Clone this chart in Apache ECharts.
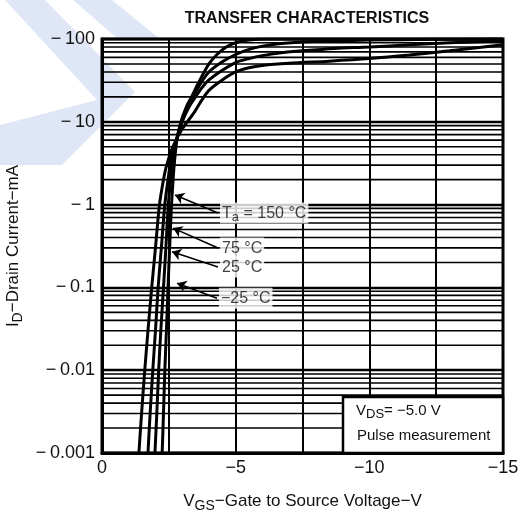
<!DOCTYPE html>
<html><head><meta charset="utf-8">
<script src="https://cdn.jsdelivr.net/npm/echarts@6/dist/echarts.min.js"></script>
<style>html,body{margin:0;padding:0;background:#fff}#c{width:530px;height:515px}</style>
</head><body><div id="c"></div>
<script>
// ---- data (VGS in volts, ID magnitude in mA; both are negative quantities) ----
const xTickValues = [0, -5, -10, -15];
const yDecades = [0.001, 0.01, 0.1, 1, 10, 100];
const minorMultipliers = [2, 3, 4, 5, 6, 7, 8, 9];

const ta150_vgs = [-1.38, -1.48, -1.6, -1.72, -1.86, -2.0, -2.15, -2.3, -2.42, -2.65, -2.98, -3.45, -3.72, -4.0, -4.5, -5.0, -5.5, -6.0, -7.0, -8.5, -10, -11.5, -13, -15];
const ta150_id  = [0.001, 0.003, 0.01, 0.03, 0.1, 0.3, 1, 2, 3, 5, 8, 13, 18, 24, 32, 40, 45, 48, 51, 54, 58, 64, 72, 85];

const ta75_vgs = [-1.72, -1.8, -1.9, -2.0, -2.1, -2.22, -2.35, -2.47, -2.55, -2.7, -3.0, -3.25, -3.5, -3.75, -4.0, -4.5, -5.0, -5.5, -6.0, -6.7, -7.5, -8.7, -10, -11.5, -13, -15];
const ta75_id  = [0.001, 0.003, 0.01, 0.03, 0.1, 0.3, 1, 2, 3, 5, 10, 15, 20, 26, 32, 42, 52, 58, 63, 68, 72, 77, 80, 85, 90, 95];

const ta25_vgs = [-1.98, -2.05, -2.12, -2.2, -2.3, -2.39, -2.48, -2.57, -2.63, -2.73, -2.98, -3.2, -3.4, -3.72, -4.0, -4.5, -5.0, -5.5, -6.0, -6.7, -7.5, -8.7, -10, -12.5, -15];
const ta25_id  = [0.001, 0.003, 0.01, 0.03, 0.1, 0.3, 1, 2, 3, 5, 10, 15, 20, 30, 40, 53, 65, 75, 82, 88, 92, 95, 97, 99, 100];

const tam25_vgs = [-2.25, -2.3, -2.35, -2.41, -2.47, -2.53, -2.6, -2.66, -2.7, -2.8, -2.95, -3.15, -3.35, -3.62, -4.0, -4.3, -4.65, -5.0, -5.5, -6.2, -10, -15];
const tam25_id  = [0.001, 0.003, 0.01, 0.03, 0.1, 0.3, 1, 2, 3, 6, 10, 15, 20, 30, 50, 65, 80, 90, 97, 100, 100, 100];

const annotText  = ['{n|T}{s|a}{n| = 150 °C}', '{n|75 °C}', '{n|25 °C}', '{n|−25 °C}'];
const annotFromV = [-4.34, -4.34, -4.34, -4.30];
const annotFromI = [0.79, 0.30, 0.176, 0.074];
const annotToV   = [-2.73, -2.66, -2.62, -2.81];
const annotToI   = [1.31, 0.52, 0.27, 0.112];

// ---- helpers ----
const zip = (xs, ys) => xs.map((x, i) => [x, ys[i]]);
const minorValues = [];
yDecades.slice(0, -1).forEach(d => minorMultipliers.forEach(m => minorValues.push(+(d * m).toPrecision(2))));
// horizontal minor grid lines spanning the x range, broken between lines
const minorGridData = [];
minorValues.forEach(v => { minorGridData.push([-15, v], [0, v], ['-', '-']); });

const FONT = '"Liberation Sans", Arial, Helvetica, sans-serif';
const chart = echarts.init(document.getElementById('c'), null, {renderer: 'canvas'});

const curve = (name, data) => ({
  name, type: 'line', data, showSymbol: false, smooth: 0.3,
  lineStyle: {color: '#000', width: 3}, itemStyle: {color: '#000'}, z: 5, clip: true
});
const richName = {
  n: {fontSize: 17, fontFamily: FONT, color: '#111', lineHeight: 24, verticalAlign: 'middle'},
  s: {fontSize: 14, fontFamily: FONT, color: '#111', lineHeight: 14, verticalAlign: 'bottom', padding: [6, 0, 0, 0]}
};

chart.setOption({
  animation: false,
  backgroundColor: '#fff',
  textStyle: {fontFamily: FONT, color: '#111'},
  title: {
    text: 'TRANSFER CHARACTERISTICS', left: 302, top: 6, textAlign: 'center',
    textStyle: {fontFamily: FONT, fontSize: 16, fontWeight: 'bold', color: '#111'}
  },
  grid: {left: 102, right: 27, top: 39, bottom: 62, show: true, borderColor: '#000', borderWidth: 3,
         backgroundColor: 'transparent', containLabel: false, outerBoundsMode: 'none'},
  xAxis: {
    type: 'value', min: -15, max: 0, interval: 2.5, inverse: true,
    axisLine: {show: true, lineStyle: {color: '#000', width: 3}},
    axisTick: {show: false},
    splitLine: {show: true, lineStyle: {color: '#000', width: 2}},
    axisLabel: {
      color: '#111', fontSize: 18, fontFamily: FONT, margin: 6,
      formatter: v => xTickValues.includes(v) ? (v === 0 ? '0' : '−' + Math.abs(v)) : ''
    },
    name: '{n|V}{s|GS}{n|−Gate to Source Voltage−V}', nameLocation: 'middle', nameGap: 36,
    nameTextStyle: {rich: richName}
  },
  yAxis: {
    type: 'log', logBase: 10, min: 0.001, max: 100,
    axisLine: {show: true, lineStyle: {color: '#000', width: 3}},
    axisTick: {show: false},
    splitLine: {show: true, lineStyle: {color: '#000', width: 2.4}},
    minorTick: {show: false}, minorSplitLine: {show: false},
    axisLabel: {
      color: '#111', fontSize: 18, fontFamily: FONT, margin: 7,
      formatter: v => '−\u2009' + (+(+v).toPrecision(1))
    },
    name: '{n|I}{s|D}{n|−Drain Current−mA}', nameLocation: 'middle', nameGap: 69,
    nameTextStyle: {rich: richName}
  },
  series: [
    {
      name: 'minorGrid', type: 'line', data: minorGridData, silent: true, connectNulls: false,
      showSymbol: false, symbol: 'none', smooth: false,
      lineStyle: {color: '#000', width: 1.6}, z: 1
    },
    curve('150 °C', zip(ta150_vgs, ta150_id)),
    curve('75 °C', zip(ta75_vgs, ta75_id)),
    curve('25 °C', zip(ta25_vgs, ta25_id)),
    curve('−25 °C', zip(tam25_vgs, tam25_id)),
    {
      name: 'arrows', type: 'lines', coordinateSystem: 'cartesian2d', z: 6,
      symbol: ['none', 'arrow'], symbolSize: 9,
      lineStyle: {color: '#000', width: 1.6, opacity: 1},
      data: annotText.map((t, i) => ({coords: [[annotFromV[i], annotFromI[i]], [annotToV[i], annotToI[i]]]}))
    },
    {
      name: 'labels', type: 'scatter', symbolSize: 0, z: 7, silent: true,
      data: annotText.map((t, i) => ({value: [annotFromV[i], annotFromI[i]], label: {formatter: t}})),
      label: {
        show: true, position: 'right', distance: 2, backgroundColor: '#fff', padding: [1, 2, 0, 2],
        rich: {
          n: {fontSize: 16, fontFamily: FONT, color: '#111', lineHeight: 20, verticalAlign: 'middle'},
          s: {fontSize: 13, fontFamily: FONT, color: '#111', lineHeight: 13, verticalAlign: 'bottom', padding: [6, 0, 0, 0]}
        }
      }
    }
  ],
  graphic: [
    {type: 'polygon', z: -10, shape: {points: [[5, 0], [45, 0], [135, 92], [62, 165], [0, 165], [0, 125], [97, 100]]}, style: {fill: '#dfe7f6'}},
    {type: 'polygon', z: -10, shape: {points: [[73, 0], [112, 0], [160, 39], [118, 39]]}, style: {fill: '#dfe7f6'}},
    {type: 'rect', z: 100, shape: {x: 343, y: 397, width: 160, height: 56}, style: {fill: '#fff', stroke: '#000', lineWidth: 2.5}},
    {type: 'text', z: 101, left: 356, top: 403, style: {
      text: '{n|V}{s|DS}{n|= −5.0 V}', fontFamily: FONT,
      rich: {
        n: {fontSize: 15, fontFamily: FONT, fill: '#111', lineHeight: 20, verticalAlign: 'middle'},
        s: {fontSize: 13, fontFamily: FONT, fill: '#111', lineHeight: 13, verticalAlign: 'bottom', padding: [5, 0, 0, 0]}
      }}},
    {type: 'text', z: 101, left: 357, top: 428, style: {text: 'Pulse measurement', fontSize: 15, fontFamily: FONT, fill: '#111'}}
  ]
});
</script></body></html>
